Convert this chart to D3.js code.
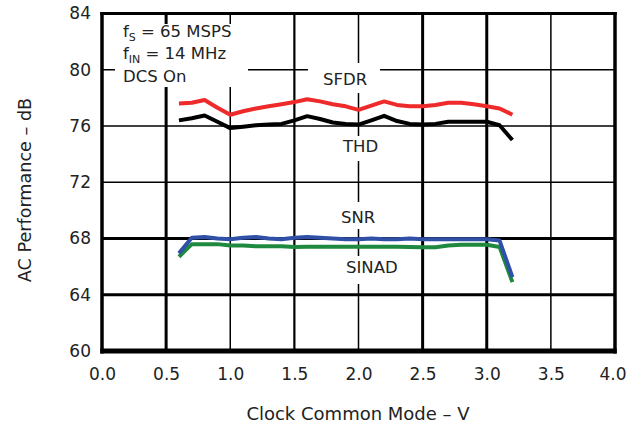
<!DOCTYPE html>
<html>
<head>
<meta charset="utf-8">
<script src="https://cdn.jsdelivr.net/npm/d3@7"></script>
<style>
body { margin: 0; background: #fff; }
svg text { font-family: "DejaVu Sans", sans-serif; fill: #222; }
</style>
</head>
<body>
<svg id="chart" width="627" height="426"></svg>
<script>
// clock common mode voltage (V)
var volts = [0.6, 0.7, 0.8, 0.9, 1.0, 1.1, 1.2, 1.3, 1.4, 1.5, 1.6, 1.7, 1.8, 1.9,
    2.0, 2.1, 2.2, 2.3, 2.4, 2.5, 2.6, 2.7, 2.8, 2.9, 3.0, 3.1, 3.2];
// AC performance (dB)
var sfdr = [77.6, 77.65, 77.85, 77.3, 76.8, 77.05, 77.25, 77.4, 77.55, 77.7, 77.9, 77.75, 77.55, 77.4,
    77.15, 77.45, 77.75, 77.5, 77.4, 77.4, 77.5, 77.65, 77.65, 77.55, 77.4, 77.25, 76.8];
var thd = [76.4, 76.55, 76.75, 76.3, 75.85, 75.95, 76.05, 76.1, 76.15, 76.4, 76.7, 76.5, 76.25, 76.15,
    76.1, 76.4, 76.72, 76.35, 76.15, 76.1, 76.15, 76.3, 76.3, 76.3, 76.3, 76.05, 75.0];
var snr = [66.95, 68.05, 68.1, 68.0, 67.95, 68.05, 68.1, 68.0, 67.95, 68.05, 68.1, 68.05, 68.0, 67.95,
    67.95, 68.0, 67.95, 67.95, 68.0, 67.95, 67.95, 67.95, 67.95, 67.95, 67.95, 67.85, 65.25];
var sinad = [66.7, 67.6, 67.6, 67.6, 67.5, 67.5, 67.45, 67.45, 67.45, 67.4, 67.42, 67.42, 67.42, 67.42,
    67.42, 67.42, 67.42, 67.42, 67.4, 67.38, 67.38, 67.5, 67.55, 67.55, 67.55, 67.4, 64.9];

var xTicks = [0, 0.5, 1.0, 1.5, 2.0, 2.5, 3.0, 3.5, 4.0];
var yTicks = [60, 64, 68, 72, 76, 80, 84];

// grid line weights in the reference
var heavyX = [0.5, 2.5, 3.0];
var mediumX = [1.5];
var heavyY = [64, 68];

var svg = d3.select("#chart"),
    margin = {
        top: 13.5,
        left: 102
    },
    width = 513,
    height = 337.5;

var x = d3.scaleLinear().domain([0, 4]).range([0, width]);
var y = d3.scaleLinear().domain([60, 84]).range([height, 0]);

var g = svg.append("g")
    .attr("transform", "translate(" + margin.left + "," + margin.top + ")");

// grid
g.selectAll(".vgrid")
    .data(xTicks.filter(function (d) { return d > 0 && d < 4; }))
    .enter().append("line")
    .attr("class", "vgrid")
    .attr("x1", function (d) { return x(d); })
    .attr("x2", function (d) { return x(d); })
    .attr("y1", 0)
    .attr("y2", height)
    .attr("stroke", "#000")
    .attr("stroke-width", function (d) {
        if (heavyX.indexOf(d) >= 0) return 3;
        if (mediumX.indexOf(d) >= 0) return 2.2;
        return 1.5;
    });

g.selectAll(".hgrid")
    .data(yTicks.filter(function (d) { return d > 60 && d < 84; }))
    .enter().append("line")
    .attr("class", "hgrid")
    .attr("x1", 0)
    .attr("x2", width)
    .attr("y1", function (d) { return y(d); })
    .attr("y2", function (d) { return y(d); })
    .attr("stroke", "#000")
    .attr("stroke-width", function (d) {
        return heavyY.indexOf(d) >= 0 ? 3 : 1.5;
    });

// white gaps behind the labels (absolute page coords)
var gaps = [
    [115, 24, 133, 63],   // conditions block
    [308, 63, 72, 30],    // SFDR
    [335, 136, 50, 25],   // THD
    [335, 202, 50, 27],   // SNR
    [338, 256, 64, 28]    // SINAD
];
svg.selectAll(".gap")
    .data(gaps)
    .enter().append("rect")
    .attr("class", "gap")
    .attr("x", function (d) { return d[0]; })
    .attr("y", function (d) { return d[1]; })
    .attr("width", function (d) { return d[2]; })
    .attr("height", function (d) { return d[3]; })
    .attr("fill", "#fff");

// frame
var frame = svg.append("g").attr("transform", "translate(" + margin.left + "," + margin.top + ")");
frame.append("line").attr("x1", 0).attr("x2", 0).attr("y1", -1.5).attr("y2", height + 2.5)
    .attr("stroke", "#000").attr("stroke-width", 3.5);
frame.append("line").attr("x1", width).attr("x2", width).attr("y1", -1.5).attr("y2", height + 2.5)
    .attr("stroke", "#000").attr("stroke-width", 3.5);
frame.append("line").attr("x1", -1.7).attr("x2", width + 1.7).attr("y1", 0).attr("y2", 0)
    .attr("stroke", "#000").attr("stroke-width", 3);
frame.append("line").attr("x1", -1.7).attr("x2", width + 1.7).attr("y1", height).attr("y2", height)
    .attr("stroke", "#000").attr("stroke-width", 5);

// axes (labels only)
var xAxis = g.append("g")
    .attr("class", "x axis")
    .attr("transform", "translate(0," + height + ")")
    .call(d3.axisBottom(x).tickValues(xTicks).tickSize(0).tickFormat(d3.format(".1f")));
var yAxis = g.append("g")
    .attr("class", "y axis")
    .call(d3.axisLeft(y).tickValues(yTicks).tickSize(0).tickPadding(11));
g.selectAll(".axis .domain").remove();
g.selectAll(".axis text")
    .style("font-family", "'DejaVu Sans', sans-serif")
    .style("font-size", "17px")
    .attr("fill", "#222");
xAxis.selectAll("text").attr("y", 29).attr("dy", null);
// last label sits against the page edge
xAxis.selectAll("text").filter(function (d) { return d === 4; })
    .attr("text-anchor", "end")
    .attr("x", 11);

// series
var series = [
    { name: "SINAD", vals: sinad, color: "#1f8a3f" },
    { name: "SNR", vals: snr, color: "#2f50a6" },
    { name: "THD", vals: thd, color: "#000000" },
    { name: "SFDR", vals: sfdr, color: "#ee2a2a" }
];
var line = d3.line()
    .x(function (d) { return x(d[0]); })
    .y(function (d) { return y(d[1]); });

g.selectAll(".series")
    .data(series)
    .enter().append("path")
    .attr("class", "series")
    .attr("fill", "none")
    .attr("stroke", function (d) { return d.color; })
    .attr("stroke-width", 4)
    .attr("stroke-linejoin", "round")
    .attr("d", function (d) {
        return line(volts.map(function (v, i) { return [v, d.vals[i]]; }));
    });

// curve labels
var labels = [
    { t: "SFDR", x: 323, y: 85 },
    { t: "THD", x: 343, y: 152 },
    { t: "SNR", x: 341, y: 223 },
    { t: "SINAD", x: 346, y: 273 }
];
svg.selectAll(".clabel")
    .data(labels)
    .enter().append("text")
    .attr("class", "clabel")
    .attr("x", function (d) { return d.x; })
    .attr("y", function (d) { return d.y; })
    .style("font-size", "16.5px")
    .text(function (d) { return d.t; });

// test conditions
var cond = svg.append("g").style("font-size", "16.5px");
var c1 = cond.append("text").attr("x", 123).attr("y", 36.7);
c1.append("tspan").text("f");
c1.append("tspan").attr("dy", 4).style("font-size", "11px").text("S");
c1.append("tspan").attr("dy", -4).text(" = 65 MSPS");
var c2 = cond.append("text").attr("x", 123).attr("y", 58.7);
c2.append("tspan").text("f");
c2.append("tspan").attr("dy", 4).style("font-size", "11px").text("IN");
c2.append("tspan").attr("dy", -4).text(" = 14 MHz");
cond.append("text").attr("x", 123).attr("y", 81.7).text("DCS On");

// axis titles
svg.append("text")
    .attr("x", 358)
    .attr("y", 420)
    .attr("text-anchor", "middle")
    .style("font-size", "18px")
    .text("Clock Common Mode \u2013 V");
svg.append("text")
    .attr("transform", "translate(31,190) rotate(-90)")
    .attr("text-anchor", "middle")
    .style("font-size", "17.6px")
    .text("AC Performance \u2013 dB");
</script>
</body>
</html>
